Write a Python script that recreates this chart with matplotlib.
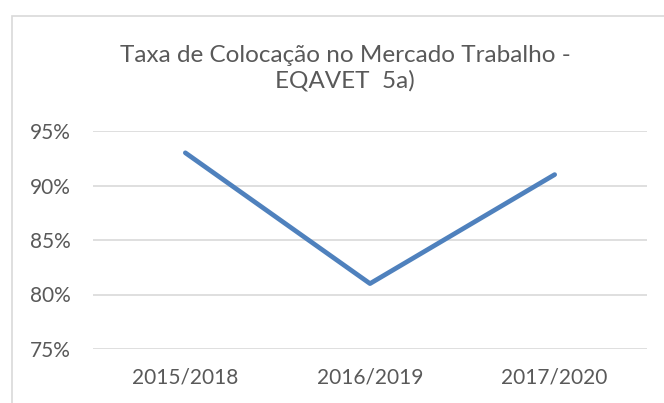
import matplotlib
matplotlib.use("Agg")
import matplotlib.pyplot as plt
from matplotlib.patches import Rectangle
from matplotlib.ticker import FuncFormatter

categories = ["2015/2018", "2016/2019", "2017/2020"]
values = [0.93, 0.81, 0.91]
yticks = [0.75, 0.80, 0.85, 0.90, 0.95]
title = "Taxa de Colocação no Mercado Trabalho -\nEQAVET  5a)"

plt.rcParams['font.family'] = ['Lato', 'DejaVu Sans']
W, H = 664, 403
fig = plt.figure(figsize=(W/100, H/100), dpi=100)
fig.patch.set_facecolor("white")

# chart area border
fig.add_artist(Rectangle((12/W, -0.1), 1.2, 1 - 16/H + 0.1, transform=fig.transFigure,
                         fill=False, edgecolor="#D9D9D9", linewidth=1.2))

ax = fig.add_axes([93/W, 1 - 349/H, (647-93)/W, (349-131)/H])
x = list(range(len(categories)))
ax.plot(x, values, color="#4F81BD", linewidth=3.4, solid_capstyle="round", zorder=3)
ax.set_xlim(-0.5, len(categories) - 0.5)
ax.set_ylim(0.75, 0.95)
ax.set_yticks(yticks)
ax.yaxis.set_major_formatter(FuncFormatter(lambda v, p: f"{v*100:.0f}%"))
ax.set_xticks(x)
ax.set_xticklabels(categories)
ax.grid(axis="y", color="#D9D9D9", linewidth=1.2)
ax.set_axisbelow(True)
for s in ax.spines.values():
    s.set_visible(False)
ax.tick_params(axis="both", length=0, labelsize=15, labelcolor="#595959")
ax.tick_params(axis="y", pad=16)
ax.tick_params(axis="x", pad=13)

fig.text(345/W, 1 - 68/H, title, ha="center", va="center", fontsize=17.5,
         color="#595959", linespacing=1.2)

fig.savefig("out.png", dpi=100)
